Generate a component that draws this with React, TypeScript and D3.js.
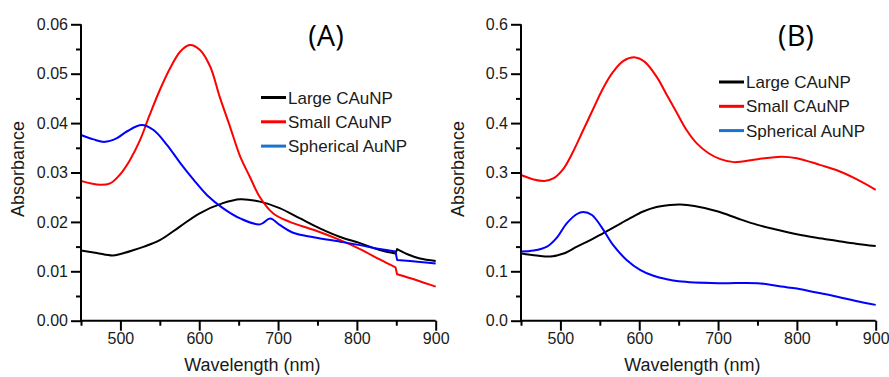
import * as d3 from 'd3';
import { useRef, useEffect } from 'react';

type Pt = [number, number];

// Panel A
const aLarge: Pt[] = [
  [450, 0.0142], [470, 0.0137], [490, 0.0132], [500, 0.0135], [515, 0.0142], [530, 0.0150],
  [550, 0.0163], [575, 0.0190], [600, 0.0217], [630, 0.0238], [652, 0.0246], [677, 0.0241],
  [702, 0.0228], [728, 0.0207], [753, 0.0187], [778, 0.0170], [804, 0.0157], [829, 0.0143],
  [849, 0.0136], [851, 0.0145], [865, 0.0134], [880, 0.0126], [900, 0.0121],
];
const aSmall: Pt[] = [
  [450, 0.0283], [474, 0.0275], [487, 0.0278], [499, 0.0295], [512, 0.0325], [525, 0.0366],
  [537, 0.0416], [550, 0.0467], [563, 0.0511], [576, 0.0545], [588, 0.0558], [601, 0.0548],
  [614, 0.0514], [626, 0.0453], [639, 0.0393], [652, 0.0332], [664, 0.0292], [677, 0.0250],
  [694, 0.0217], [715, 0.0200], [745, 0.0184], [779, 0.0163], [804, 0.0145], [829, 0.0124],
  [849, 0.0108], [851, 0.0094], [876, 0.0082], [900, 0.0069],
];
const aSpherical: Pt[] = [
  [450, 0.0376], [466, 0.0367], [480, 0.0362], [495, 0.0369], [508, 0.0383], [527, 0.0396],
  [542, 0.0386], [559, 0.0356], [576, 0.0319], [593, 0.0285], [610, 0.0254], [630, 0.0228],
  [652, 0.0207], [677, 0.0195], [690, 0.0207], [702, 0.0194], [719, 0.0178], [745, 0.0169],
  [779, 0.0160], [804, 0.0153], [829, 0.0145], [849, 0.0140], [851, 0.0123], [880, 0.0119],
  [900, 0.0116],
];

// Panel B
const bLarge: Pt[] = [
  [450, 0.136], [470, 0.132], [487, 0.130], [504, 0.136], [521, 0.150], [538, 0.163],
  [554, 0.177], [571, 0.192], [588, 0.207], [605, 0.221], [622, 0.230], [639, 0.234],
  [652, 0.235], [670, 0.232], [700, 0.221], [725, 0.207], [750, 0.194], [775, 0.184],
  [800, 0.175], [825, 0.168], [850, 0.162], [875, 0.156], [900, 0.151],
];
const bSmall: Pt[] = [
  [450, 0.295], [466, 0.286], [480, 0.283], [491, 0.288], [504, 0.308], [516, 0.342],
  [529, 0.386], [542, 0.430], [554, 0.470], [567, 0.504], [580, 0.526], [595, 0.533],
  [607, 0.524], [622, 0.494], [635, 0.457], [648, 0.420], [660, 0.386], [673, 0.359],
  [688, 0.339], [703, 0.327], [720, 0.321], [750, 0.327], [780, 0.332], [800, 0.329],
  [830, 0.315], [850, 0.305], [875, 0.287], [900, 0.265],
];
const bSpherical: Pt[] = [
  [450, 0.140], [466, 0.142], [483, 0.150], [495, 0.167], [508, 0.197], [521, 0.216],
  [529, 0.220], [540, 0.214], [552, 0.190], [567, 0.153], [584, 0.123], [601, 0.103],
  [618, 0.091], [635, 0.084], [650, 0.080], [700, 0.076], [750, 0.076], [780, 0.069],
  [800, 0.065], [825, 0.057], [850, 0.049], [875, 0.040], [900, 0.032],
];

const seriesNames = ['Large CAuNP', 'Small CAuNP', 'Spherical AuNP'];
const lineColors = ['#000000', '#ff0000', '#0000ff'];
const swatchColors = ['#000000', '#ff0000', '#1874cd'];

const xTicks = [500, 600, 700, 800, 900];
const xMinor = [450, 550, 650, 750, 850];
const aYTicks = [0, 0.01, 0.02, 0.03, 0.04, 0.05, 0.06];
const bYTicks = [0, 0.1, 0.2, 0.3, 0.4, 0.5, 0.6];

const FONT = 'Arial, "Liberation Sans", sans-serif';

interface Panel {
  left: number;
  right: number;
  yMax: number;
  yTicks: number[];
  yFormat: string;
  series: Pt[][];
  title: string;
  titleX: number;
  legendX: number;
  legendY: number;
}

const panels: Panel[] = [
  { left: 81, right: 435.7, yMax: 0.06, yTicks: aYTicks, yFormat: '.2f', series: [aLarge, aSmall, aSpherical],
    title: '(A)', titleX: 326, legendX: 261, legendY: 97.5 },
  { left: 521, right: 875.7, yMax: 0.6, yTicks: bYTicks, yFormat: '.1f', series: [bLarge, bSmall, bSpherical],
    title: '(B)', titleX: 796, legendX: 719, legendY: 82 },
];

// smooth curve, but keep the detector-change steps sharp
const splitAtSteps = (s: Pt[]) => {
  const parts: Pt[][] = [[s[0]]];
  for (let i = 1; i < s.length; i++) {
    if (s[i][0] - s[i - 1][0] < 3) parts.push([]);
    parts[parts.length - 1].push(s[i]);
  }
  return parts;
};

const App = () => {
  const ref = useRef<SVGSVGElement>(null);

  useEffect(() => {
    if (!ref.current) return;
    const svg = d3.select(ref.current);
    svg.selectAll('*').remove();
    const top = 24.3, bottom = 320.7;

    panels.forEach(p => {
      const g = svg.append('g');
      const x = d3.scaleLinear().domain([450, 900]).range([p.left, p.right]);
      const y = d3.scaleLinear().domain([0, p.yMax]).range([bottom, top]);
      const yStep = p.yTicks[1] - p.yTicks[0];
      const yMinor = p.yTicks.slice(0, -1).map(v => v + yStep / 2);

      // curves
      const line = d3.line<Pt>().x(d => x(d[0])).y(d => y(d[1])).curve(d3.curveCatmullRom.alpha(0.5));
      p.series.forEach((s, i) => {
        const d = splitAtSteps(s)
          .map((part, j) => {
            const str = line(part) || '';
            return j === 0 ? str : 'L' + str.slice(1);
          })
          .join('');
        g.append('path')
          .attr('d', d)
          .attr('fill', 'none')
          .attr('stroke', lineColors[i])
          .attr('stroke-width', 2)
          .attr('stroke-linejoin', 'round');
      });

      // axes
      const styleAxis = (sel: d3.Selection<SVGGElement, unknown, null, undefined>) => {
        sel.select('.domain').remove();
        sel.selectAll('line').attr('stroke', '#000').attr('stroke-width', 2);
        sel.selectAll('text').attr('font-family', FONT).attr('font-size', 16).attr('fill', '#1a1a1a');
      };
      g.append('g').attr('transform', `translate(0,${bottom})`)
        .call(d3.axisBottom(x).tickValues(xMinor).tickSize(5).tickFormat(() => ''))
        .call(styleAxis);
      g.append('g').attr('transform', `translate(0,${bottom})`)
        .call(d3.axisBottom(x).tickValues(xTicks).tickSize(10).tickPadding(2).tickFormat(d3.format('d')))
        .call(styleAxis);
      g.append('g').attr('transform', `translate(${p.left},0)`)
        .call(d3.axisLeft(y).tickValues(yMinor).tickSize(5).tickFormat(() => ''))
        .call(styleAxis);
      g.append('g').attr('transform', `translate(${p.left},0)`)
        .call(d3.axisLeft(y).tickValues(p.yTicks).tickSize(10).tickPadding(3).tickFormat(d3.format(p.yFormat)))
        .call(styleAxis);
      g.append('path')
        .attr('d', `M${p.left},${top}V${bottom}H${p.right}`)
        .attr('fill', 'none').attr('stroke', '#000').attr('stroke-width', 2);

      // axis titles
      g.append('text')
        .attr('x', (p.left + p.right) / 2 - 6).attr('y', 371)
        .attr('text-anchor', 'middle').attr('font-family', FONT).attr('font-size', 18).attr('fill', '#1a1a1a')
        .text('Wavelength (nm)');
      g.append('text')
        .attr('transform', `translate(${p.left - 57},169) rotate(-90)`)
        .attr('text-anchor', 'middle').attr('font-family', FONT).attr('font-size', 18).attr('fill', '#1a1a1a')
        .text('Absorbance');

      // panel title
      g.append('text')
        .attr('x', p.titleX).attr('y', 46)
        .attr('text-anchor', 'middle').attr('font-family', '"Open Sans", sans-serif').attr('font-size', 29)
        .attr('fill', '#000')
        .text(p.title);

      // legend
      seriesNames.forEach((name, i) => {
        const ly = p.legendY + i * 24.3;
        g.append('line')
          .attr('x1', p.legendX).attr('x2', p.legendX + 25).attr('y1', ly).attr('y2', ly)
          .attr('stroke', swatchColors[i]).attr('stroke-width', 3);
        g.append('text')
          .attr('x', p.legendX + 27).attr('y', ly + 6)
          .attr('font-family', FONT).attr('font-size', 17).attr('fill', '#1a1a1a')
          .text(name);
      });
    });
  }, []);

  return (
    <svg ref={ref} width={889} height={377}
      style={{ position: 'absolute', left: 0, top: 0, background: '#fff' }} />
  );
};

export default App;
